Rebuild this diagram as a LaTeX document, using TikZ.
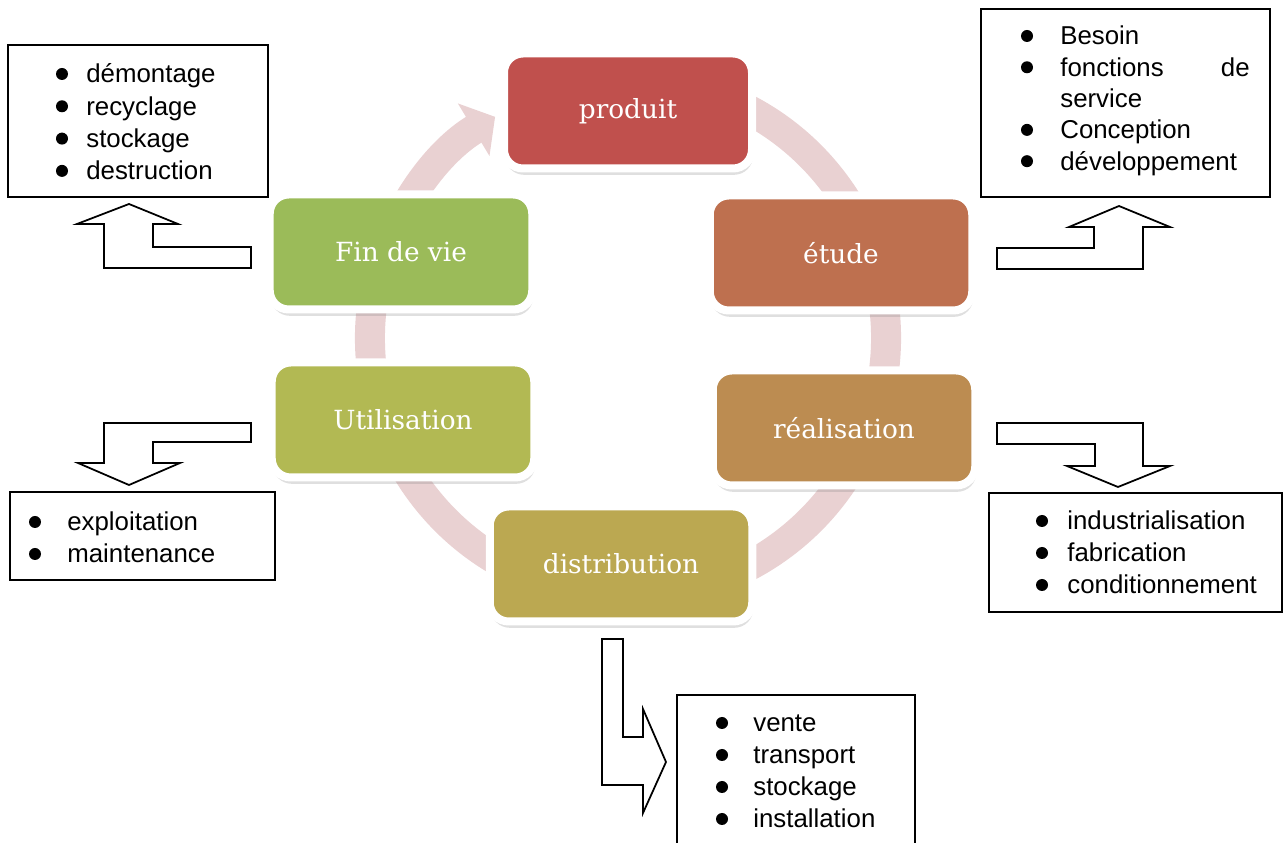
\documentclass[tikz,border=0pt]{standalone}
\usepackage{fontspec}
\setmainfont{Liberation Sans}
\newfontfamily\seriffont{DejaVu Serif}
\usetikzlibrary{arrows.meta,shadows}

\definecolor{rougeprod}{RGB}{192,80,77}
\definecolor{brique}{RGB}{190,112,79}
\definecolor{ocre}{RGB}{188,140,81}
\definecolor{moutarde}{RGB}{187,168,81}
\definecolor{olive}{RGB}{178,185,83}
\definecolor{vertfin}{RGB}{155,187,89}
\definecolor{rosepale}{RGB}{233,209,210}

\begin{document}
\begin{tikzpicture}[x=0.2mm, y=-0.2mm,
  etape/.style = {rectangle, rounded corners=3.8mm, draw=white, line width=1.6mm,
                  minimum width=52.5mm, minimum height=23mm, text=white,
                  font=\seriffont\fontsize{15}{18}\selectfont,
                  drop shadow={shadow xshift=0.6pt, shadow yshift=-3.6pt, opacity=0.25}},
  anneau/.style = {draw=rosepale, line width=6mm, -{Triangle[length=5mm, width=12mm]}},
  cadre/.style = {draw, line width=0.9pt},
  fleche/.style = {draw, fill=white, line width=1pt, line join=miter},
  puce/.style = {anchor=base west, inner sep=0pt, font=\fontsize{14.7}{18}\selectfont},
  ]
  \useasboundingbox (0,0) rectangle (1284,843);

  % le cycle
  \draw[anneau] (628,338) ++(-75:258) arc[start angle=-75, end angle=239, radius=258];

  % les etapes
  \node[etape, fill=rougeprod, minimum width=49.6mm] (produit) at (628,111) {produit};
  \node[etape, fill=brique] (etude) at (841,253) {étude};
  \node[etape, fill=ocre] (realisation) at (844,428) {réalisation};
  \node[etape, fill=moutarde] (distribution) at (621,564) {distribution};
  \node[etape, fill=olive] (utilisation) at (403,420) {Utilisation};
  \node[etape, fill=vertfin] (findevie) at (401,252) {Fin de vie};

  % fleches coudees
  \draw[fleche] (129,204) -- (178,224) -- (153,224) -- (153,247) -- (251,247)
    -- (251,268) -- (104,268) -- (104,224) -- (77,224) -- cycle;
  \draw[fleche] (1119,206) -- (1170,227) -- (1143,227) -- (1143,269) -- (997,269)
    -- (997,248) -- (1094,248) -- (1094,227) -- (1069,227) -- cycle;
  \draw[fleche] (251,423) -- (251,442) -- (153,442) -- (153,463) -- (180,463)
    -- (129,485) -- (78,463) -- (104,463) -- (104,423) -- cycle;
  \draw[fleche] (997,423) -- (1143,423) -- (1143,466) -- (1170,466) -- (1118,487)
    -- (1067,466) -- (1095,466) -- (1095,444) -- (997,444) -- cycle;
  \draw[fleche] (602,639) -- (623,639) -- (623,737) -- (643,737) -- (643,709)
    -- (666,762) -- (643,813) -- (643,785) -- (602,785) -- cycle;

  % fin de vie
  \draw[cadre] (8,45) rectangle (268,197);
  \foreach \mot [count=\i] in {démontage, recyclage, stockage, destruction} {
    \node[puce] (fin\i) at (86, 50.7+32.3*\i) {\mot};
    \fill (62, 41.7+32.3*\i) circle[radius=6];
  }

  % etude
  \draw[cadre] (981,9) rectangle (1270,197);
  \node[puce] (etu1) at (1060,45) {Besoin};
  \node[puce] (etu2) at (1060,76.3) {fonctions};
  \node[puce, anchor=base east] (etu3) at (1250,76.3) {de};
  \node[puce] (etu4) at (1060,107.6) {service};
  \node[puce] (etu5) at (1060,138.9) {Conception};
  \node[puce] (etu6) at (1060,170.2) {développement};
  \foreach \y in {45, 76.3, 138.9, 170.2}
    \fill (1027, \y-9) circle[radius=6];

  % utilisation
  \draw[cadre] (10,492) rectangle (275,580);
  \foreach \mot [count=\i] in {exploitation, maintenance} {
    \node[puce] (uti\i) at (67, 499+32*\i) {\mot};
    \fill (35, 490+32*\i) circle[radius=6];
  }

  % realisation
  \draw[cadre] (989,493) rectangle (1282,612);
  \foreach \mot [count=\i] in {industrialisation, fabrication, conditionnement} {
    \node[puce] (rea\i) at (1067, 498+32*\i) {\mot};
    \fill (1042, 489+32*\i) circle[radius=6];
  }

  % distribution
  \draw[cadre] (677,695) rectangle (915,870);
  \foreach \mot [count=\i] in {vente, transport, stockage, installation} {
    \node[puce] (dis\i) at (753, 700+32*\i) {\mot};
    \fill (722, 691+32*\i) circle[radius=6];
  }
\end{tikzpicture}
\end{document}
